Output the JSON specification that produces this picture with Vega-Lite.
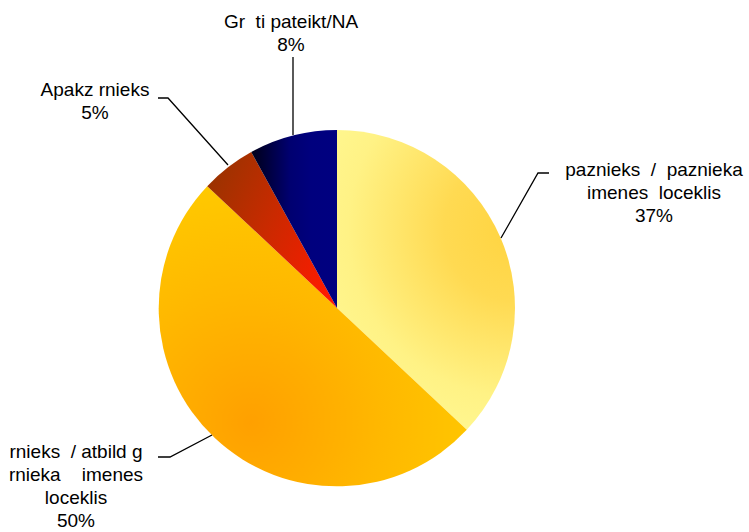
{
  "$schema": "https://vega.github.io/schema/vega-lite/v6.json",
  "width": 749,
  "height": 532,
  "autosize": {"type": "none"},
  "padding": 0,
  "background": "white",
  "config": {"view": {"stroke": null}},
  "layer": [
    {
      "data": {"values": [
        {"category": "paznieks / paznieka imenes loceklis", "value": 37, "order": 1},
        {"category": "rnieks / atbild g rnieka imenes loceklis", "value": 50, "order": 2},
        {"category": "Apakz rnieks", "value": 5, "order": 3},
        {"category": "Gr ti pateikt/NA", "value": 8, "order": 4}
      ]},
      "transform": [
        {"stack": "value", "groupby": [], "sort": [{"field": "order"}], "as": ["v0", "v1"]}
      ],
      "layer": [
        {
          "transform": [{"filter": "datum.order == 1"}],
          "mark": {"type": "arc", "outerRadius": 178, "strokeWidth": 0,
            "color": {"gradient": "radial", "x1": 0.8, "y1": 0.33, "r1": 0, "x2": 0.8, "y2": 0.33, "r2": 0.8,
              "stops": [{"offset": 0, "color": "#FFD440"}, {"offset": 0.3, "color": "#FFDA52"}, {"offset": 0.7, "color": "#FFF285"}, {"offset": 1, "color": "#FFFA96"}]}},
          "encoding": {
            "theta": {"field": "v0", "type": "quantitative", "scale": {"domain": [0, 100]}},
            "theta2": {"field": "v1"},
            "x": {"datum": 0, "type": "quantitative", "scale": {"domain": [-337, 412], "nice": false, "zero": false}, "axis": null},
            "y": {"datum": 0, "type": "quantitative", "scale": {"domain": [-224, 308], "nice": false, "zero": false}, "axis": null}
          }
        },
        {
          "transform": [{"filter": "datum.order == 2"}],
          "mark": {"type": "arc", "outerRadius": 178, "strokeWidth": 0,
            "color": {"gradient": "radial", "x1": 0.3, "y1": 0.78, "r1": 0, "x2": 0.3, "y2": 0.78, "r2": 0.85,
              "stops": [{"offset": 0, "color": "#FFA000"}, {"offset": 0.5, "color": "#FFB800"}, {"offset": 1, "color": "#FFCC00"}]}},
          "encoding": {
            "theta": {"field": "v0", "type": "quantitative", "scale": {"domain": [0, 100]}},
            "theta2": {"field": "v1"},
            "x": {"datum": 0, "type": "quantitative"},
            "y": {"datum": 0, "type": "quantitative"}
          }
        },
        {
          "transform": [{"filter": "datum.order == 3"}],
          "mark": {"type": "arc", "outerRadius": 178, "strokeWidth": 0,
            "color": {"gradient": "linear", "x1": 0, "y1": 0.2, "x2": 1, "y2": 0.8,
              "stops": [{"offset": 0, "color": "#9A3300"}, {"offset": 0.45, "color": "#C82A00"}, {"offset": 1, "color": "#FF1A00"}]}},
          "encoding": {
            "theta": {"field": "v0", "type": "quantitative", "scale": {"domain": [0, 100]}},
            "theta2": {"field": "v1"},
            "x": {"datum": 0, "type": "quantitative"},
            "y": {"datum": 0, "type": "quantitative"}
          }
        },
        {
          "transform": [{"filter": "datum.order == 4"}],
          "mark": {"type": "arc", "outerRadius": 178, "strokeWidth": 0,
            "color": {"gradient": "linear", "x1": 0, "y1": 0.5, "x2": 1, "y2": 0.5,
              "stops": [{"offset": 0, "color": "#000018"}, {"offset": 0.45, "color": "#000070"}, {"offset": 0.7, "color": "#00007E"}, {"offset": 1, "color": "#000080"}]}},
          "encoding": {
            "theta": {"field": "v0", "type": "quantitative", "scale": {"domain": [0, 100]}},
            "theta2": {"field": "v1"},
            "x": {"datum": 0, "type": "quantitative"},
            "y": {"datum": 0, "type": "quantitative"}
          }
        }
      ]
    },
    {
      "data": {"values": [
        {"g": "a", "i": 0, "px": -44, "py": 251},
        {"g": "a", "i": 1, "px": -44, "py": 173},
        {"g": "b", "i": 0, "px": -179, "py": 210},
        {"g": "b", "i": 1, "px": -169, "py": 210},
        {"g": "b", "i": 2, "px": -109, "py": 143},
        {"g": "c", "i": 0, "px": 164, "py": 70},
        {"g": "c", "i": 1, "px": 201, "py": 135},
        {"g": "c", "i": 2, "px": 212, "py": 135},
        {"g": "d", "i": 0, "px": -179, "py": -149},
        {"g": "d", "i": 1, "px": -167, "py": -149},
        {"g": "d", "i": 2, "px": -125, "py": -127}
      ]},
      "mark": {"type": "line", "color": "black", "strokeWidth": 1.3},
      "encoding": {
        "x": {"field": "px", "type": "quantitative"},
        "y": {"field": "py", "type": "quantitative"},
        "detail": {"field": "g"},
        "order": {"field": "i"}
      }
    },
    {
      "data": {"values": [
        {"label": ["Gr\u00a0 ti pateikt/NA", "8%"], "px": -46, "py": 286},
        {"label": ["Apakz rnieks", "5%"], "px": -242, "py": 218},
        {"label": ["paznieks\u00a0 /\u00a0 paznieka", "imenes\u00a0 loceklis", "37%"], "px": 317, "py": 138},
        {"label": ["rnieks\u00a0 / atbild g", "rnieka\u00a0\u00a0\u00a0 imenes", "loceklis", "50%"], "px": -261, "py": -144}
      ]},
      "mark": {"type": "text", "font": "Liberation Sans", "fontSize": 19, "lineHeight": 23, "align": "center", "baseline": "middle", "color": "black"},
      "encoding": {
        "x": {"field": "px", "type": "quantitative"},
        "y": {"field": "py", "type": "quantitative"},
        "text": {"field": "label"}
      }
    }
  ]
}
